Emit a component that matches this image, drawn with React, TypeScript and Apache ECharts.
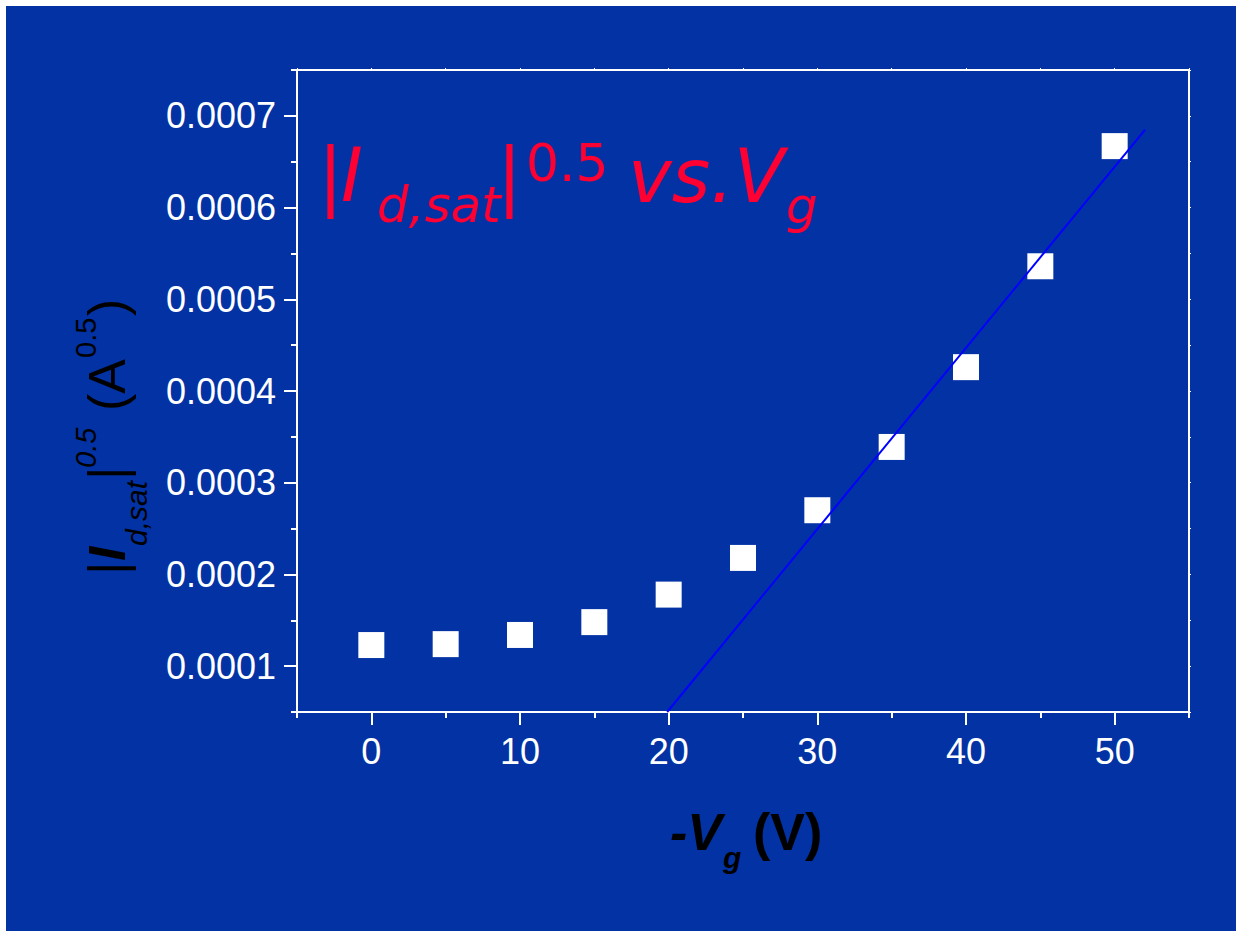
import React, { useEffect, useRef } from 'react';
import * as echarts from 'echarts';

// ---- data ----
const vgValues = [0, 5, 10, 15, 20, 25, 30, 35, 40, 45, 50];
const idSqrtValues = [0.000123, 0.000124, 0.000134, 0.000148, 0.000178, 0.000218, 0.00027, 0.000339, 0.000426, 0.000536, 0.000667];
const fitX = [19.9, 52.05];
const fitY = [0.00005, 0.000685];
const xMajorTicks = [0, 10, 20, 30, 40, 50];
const yMajorTicks = [0.0001, 0.0002, 0.0003, 0.0004, 0.0005, 0.0006, 0.0007];
const yTickLabels = ['0.0001', '0.0002', '0.0003', '0.0004', '0.0005', '0.0006', '0.0007'];

const BG = '#0232A3';
const WHITE = '#FFFFFF';
const RED = '#FF0033';
const SANS = '"Liberation Sans", Arial, sans-serif';
const DEJAVU = '"DejaVu Sans", Verdana, sans-serif';

type TOpts = { italic?: boolean; bold?: boolean; color: string; family: string; rot?: number };
function txt(text: string, x: number, y: number, fs: number, o: TOpts) {
  return {
    type: 'text',
    x,
    y,
    rotation: o.rot || 0,
    z: 10,
    style: {
      text,
      fontSize: fs,
      fontFamily: o.family,
      fontStyle: o.italic ? 'italic' : 'normal',
      fontWeight: o.bold ? 'bold' : 'normal',
      fill: o.color,
      align: 'left',
      verticalAlign: 'middle',
    },
  };
}

const XMIN = -5, XMAX = 55, YMIN = 0.00005, YMAX = 0.00075;

const axisLine = { show: true, onZero: false, lineStyle: { color: WHITE, width: 2 } };
const noLine = { show: false, onZero: false };

function buildOption() {
  const red = { color: RED, family: DEJAVU };
  const blk = { color: '#000000', family: SANS };
  const R = Math.PI / 2;
  return {
    animation: false,
    backgroundColor: BG,
    grid: { left: 297, top: 70, width: 892, height: 642, containLabel: false },
    xAxis: [
      {
        type: 'value', position: 'bottom', min: XMIN, max: XMAX,
        axisLine,
        axisTick: { show: true, length: 13, customValues: xMajorTicks, lineStyle: { color: WHITE, width: 2 } },
        axisLabel: { show: true, customValues: xMajorTicks, color: WHITE, fontSize: 36, fontFamily: SANS, margin: 21 },
        splitLine: { show: false },
      },
      {
        type: 'value', position: 'bottom', min: XMIN, max: XMAX, interval: 5,
        axisLine: noLine,
        axisTick: { show: true, length: 6, lineStyle: { color: WHITE, width: 2 } },
        axisLabel: { show: false },
        splitLine: { show: false },
      },
      {
        type: 'value', position: 'top', min: XMIN, max: XMAX, interval: 5,
        axisLine,
        axisTick: { show: true, length: 2, lineStyle: { color: WHITE, width: 1 } },
        axisLabel: { show: false },
        splitLine: { show: false },
      },
    ],
    yAxis: [
      {
        type: 'value', position: 'left', min: YMIN, max: YMAX,
        axisLine,
        axisTick: { show: true, length: 13, customValues: yMajorTicks, lineStyle: { color: WHITE, width: 2 } },
        axisLabel: {
          show: true, customValues: yMajorTicks, color: WHITE, fontSize: 36, fontFamily: SANS, margin: 21,
          formatter: (v: number) => {
            const i = yMajorTicks.findIndex((t) => Math.abs(t - v) < 1e-9);
            return i >= 0 ? yTickLabels[i] : '';
          },
        },
        splitLine: { show: false },
      },
      {
        type: 'value', position: 'left', min: YMIN, max: YMAX, interval: 0.00005,
        axisLine: noLine,
        axisTick: { show: true, length: 6, lineStyle: { color: WHITE, width: 2 } },
        axisLabel: { show: false },
        splitLine: { show: false },
      },
      {
        type: 'value', position: 'right', min: YMIN, max: YMAX, interval: 0.00005,
        axisLine,
        axisTick: { show: true, length: 2, lineStyle: { color: WHITE, width: 1 } },
        axisLabel: { show: false },
        splitLine: { show: false },
      },
    ],
    series: [
      {
        type: 'scatter',
        xAxisIndex: 0,
        yAxisIndex: 0,
        symbol: 'rect',
        symbolSize: 26,
        itemStyle: { color: WHITE, opacity: 1 },
        z: 3,
        data: vgValues.map((x, i) => [x, idSqrtValues[i]]),
      },
      {
        type: 'line',
        xAxisIndex: 0,
        yAxisIndex: 0,
        showSymbol: false,
        symbol: 'none',
        lineStyle: { color: '#0000FF', width: 2 },
        z: 4,
        data: fitX.map((x, i) => [x, fitY[i]]),
      },
    ],
    graphic: [
      { type: 'rect', shape: { x: 0, y: 0, width: 1236, height: 6 }, style: { fill: WHITE }, z: 20 },
      { type: 'rect', shape: { x: 0, y: 0, width: 6, height: 931 }, style: { fill: WHITE }, z: 20 },
      // in-plot red title
      txt('|', 318, 175, 74, red),
      txt('I', 341, 175, 74, { ...red, italic: true }),
      txt('d,sat', 377, 205, 50, { ...red, italic: true }),
      txt('|', 497, 175, 74, red),
      txt('0.5', 526, 163, 52, red),
      txt('vs.V', 628, 176, 74, { ...red, italic: true }),
      txt('g', 786, 206, 50, { ...red, italic: true }),
      // y axis name (rotated)
      txt('|', 107, 575, 52, { ...blk, rot: R }),
      txt('I', 107, 561, 52, { ...blk, rot: R, italic: true, bold: true }),
      txt('d,sat', 136, 546, 30, { ...blk, rot: R, italic: true }),
      txt('|', 107, 480, 52, { ...blk, rot: R }),
      txt('0.5', 86, 468, 29, { ...blk, rot: R, italic: true }),
      txt('(A', 107, 411, 52, { ...blk, rot: R }),
      txt('0.5', 86, 358, 29, { ...blk, rot: R }),
      txt(')', 107, 316, 52, { ...blk, rot: R }),
      // x axis name
      txt('-V', 670, 832, 52, { ...blk, italic: true, bold: true }),
      txt('g', 723, 857, 30, { ...blk, italic: true, bold: true }),
      txt('(V)', 753, 832, 52, { ...blk, bold: true }),
    ],
  };
}

export default function App() {
  const ref = useRef<HTMLDivElement>(null);
  useEffect(() => {
    if (!ref.current) return;
    const chart = echarts.init(ref.current, null, { renderer: 'svg' });
    chart.setOption(buildOption() as any);
    return () => chart.dispose();
  }, []);
  return (
    <div
      ref={ref}
      style={{ position: 'fixed', left: 0, top: 0, width: 1236, height: 931 }}
    />
  );
}
